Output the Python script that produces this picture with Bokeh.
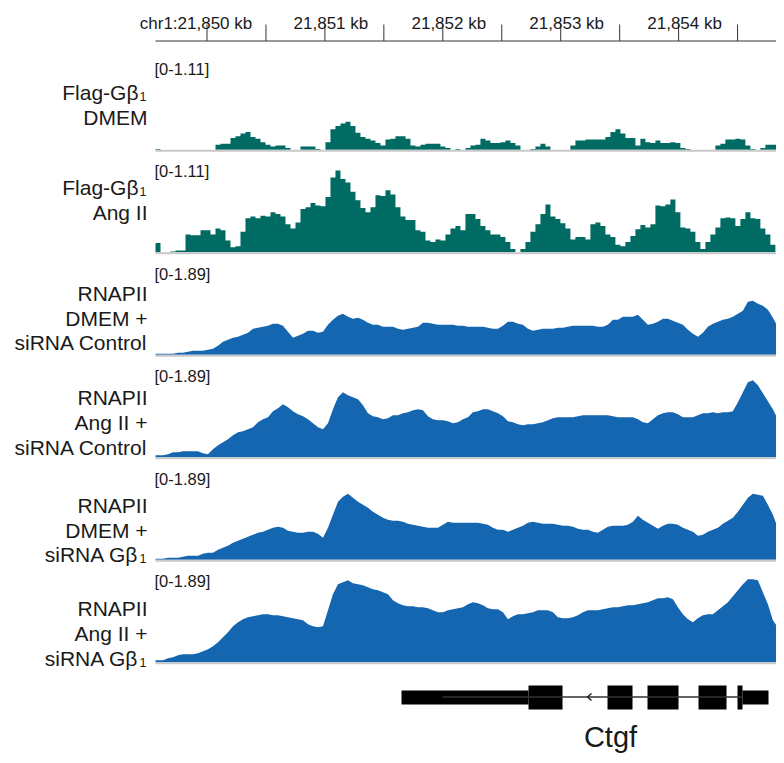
import numpy as np
from bokeh.plotting import figure
from bokeh.models import Range1d
from bokeh.embed import file_html
from bokeh.resources import INLINE
from bokeh.core.properties import value

FONT = "Liberation Sans"

# ---------------- data ----------------
CHROM = "chr1"
VIEW_START_KB = 21849.5632          # left edge of the data panel
VIEW_END_KB = 21854.8982            # right edge of the data panel
BIN_KB = 0.0424                     # width of one coverage bin (kb)

TICKS_KB = [21850.0, 21850.5, 21851.0, 21851.5, 21852.0, 21852.5, 21853.0, 21853.5, 21854.0, 21854.5]
LABEL_TICKS_KB = [21850.0, 21851.0, 21852.0, 21853.0, 21854.0]
TICK_LABELS = ["chr1:21,850 kb", "21,851 kb", "21,852 kb", "21,853 kb", "21,854 kb"]

flag_dmem = [
    0.01, 0, 0, 0, 0, 0, 0, 0, 0, 0, 0, 0,
    0.06, 0.07, 0.07, 0.14, 0.16, 0.19, 0.21, 0.15, 0.13, 0.09, 0.06, 0.04, 0.05, 0.05, 0.02, 0, 0, 0.04, 0.04, 0.04, 0.01, 0,
    0.09, 0.24, 0.28, 0.31, 0.33, 0.28, 0.20, 0.15, 0.13, 0.11, 0.08,
    0.05, 0.12, 0.13, 0.16, 0.16, 0.13, 0.05, 0.04, 0.06, 0.07, 0.07, 0.07, 0.04, 0.02, 0, 0.01, 0, 0.02, 0.05, 0.06,
    0.13, 0.11, 0.08, 0.08, 0.09, 0.11, 0.08, 0.05, 0, 0, 0.01, 0.04, 0.07, 0.04, 0, 0, 0, 0,
    0.05, 0.11, 0.11, 0.12, 0.12, 0.12, 0.12, 0.15, 0.21, 0.24, 0.19, 0.14, 0.14, 0.05, 0.13, 0.09, 0.08, 0.11, 0.08, 0.08, 0.09, 0.08, 0.02, 0.01,
    0, 0, 0, 0, 0,
    0.05, 0.07, 0.12, 0.12, 0.13, 0.12, 0.05, 0.01, 0, 0.02, 0.06, 0.06, 0.06, 0.02,
]

flag_ang = [
    0.11, 0, 0, 0.01, 0.02, 0.02, 0.21, 0.20, 0.20, 0.26,
    0.26, 0.21, 0.28, 0.26, 0.14, 0.06, 0.07, 0.24, 0.40, 0.42,
    0.40, 0.43, 0.42, 0.47, 0.45, 0.42, 0.33, 0.28, 0.35, 0.51,
    0.53, 0.58, 0.55, 0.54, 0.65, 0.88, 0.96, 0.86, 0.82, 0.71,
    0.61, 0.52, 0.47, 0.53, 0.67, 0.66, 0.73, 0.68, 0.53, 0.42,
    0.38, 0.38, 0.26, 0.24, 0.14, 0.12, 0.15, 0.14, 0.21, 0.28,
    0.31, 0.26, 0.45, 0.45, 0.39, 0.31, 0.26, 0.21, 0.21, 0.18,
    0.12, 0.04, 0, 0.04, 0.12, 0.24, 0.33, 0.45, 0.56, 0.42,
    0.39, 0.34, 0.28, 0.15, 0.18, 0.18, 0.15, 0.33, 0.35, 0.31,
    0.21, 0.18, 0.09, 0.07, 0.12, 0.19, 0.27, 0.32, 0.29, 0.33,
    0.55, 0.54, 0.56, 0.62, 0.47, 0.29, 0.28, 0.24, 0.12, 0.04,
    0.12, 0.21, 0.29, 0.40, 0.41, 0.40, 0.31, 0.39, 0.47, 0.40,
    0.39, 0.28, 0.21, 0.09, 0, 0,
]

pol2_dmem_sictrl = [
    0.02, 0.02, 0.02, 0.02, 0.04, 0.04, 0.06, 0.08, 0.08, 0.08,
    0.10, 0.12, 0.18, 0.26, 0.30, 0.34, 0.36, 0.40, 0.44, 0.52,
    0.54, 0.56, 0.58, 0.62, 0.62, 0.58, 0.46, 0.34, 0.38, 0.42,
    0.48, 0.48, 0.44, 0.46, 0.60, 0.70, 0.78, 0.82, 0.76, 0.72,
    0.74, 0.70, 0.64, 0.60, 0.60, 0.56, 0.56, 0.56, 0.52, 0.50,
    0.52, 0.54, 0.56, 0.64, 0.64, 0.62, 0.60, 0.60, 0.60, 0.60,
    0.58, 0.58, 0.56, 0.56, 0.56, 0.56, 0.54, 0.52, 0.52, 0.58,
    0.66, 0.66, 0.62, 0.60, 0.52, 0.48, 0.50, 0.52, 0.52, 0.52,
    0.54, 0.54, 0.56, 0.58, 0.58, 0.58, 0.58, 0.58, 0.56, 0.56,
    0.60, 0.70, 0.70, 0.76, 0.76, 0.76, 0.80, 0.70, 0.60, 0.62,
    0.66, 0.72, 0.72, 0.68, 0.64, 0.60, 0.50, 0.42, 0.36, 0.44,
    0.56, 0.62, 0.66, 0.70, 0.72, 0.76, 0.82, 0.88, 1.06, 1.08,
    1.02, 0.98, 0.90, 0.74, 0.56, 0.20,
]

pol2_ang_sictrl = [
    0.04, 0.04, 0.06, 0.10, 0.10, 0.12, 0.12, 0.12, 0.12, 0.08,
    0.06, 0.16, 0.24, 0.30, 0.36, 0.44, 0.50, 0.52, 0.56, 0.60,
    0.70, 0.76, 0.80, 0.92, 0.98, 1.06, 1.00, 0.92, 0.86, 0.82,
    0.76, 0.68, 0.60, 0.56, 0.68, 0.96, 1.20, 1.30, 1.24, 1.20,
    1.16, 1.04, 0.88, 0.82, 0.80, 0.76, 0.78, 0.84, 0.84, 0.88,
    0.90, 0.94, 0.96, 0.94, 0.82, 0.76, 0.74, 0.74, 0.72, 0.68,
    0.70, 0.76, 0.80, 0.90, 0.92, 0.96, 0.96, 0.92, 0.88, 0.82,
    0.72, 0.70, 0.66, 0.64, 0.66, 0.66, 0.68, 0.70, 0.74, 0.78,
    0.80, 0.80, 0.80, 0.80, 0.82, 0.84, 0.84, 0.84, 0.84, 0.84,
    0.84, 0.82, 0.80, 0.80, 0.80, 0.80, 0.76, 0.70, 0.68, 0.76,
    0.84, 0.88, 0.90, 0.90, 0.86, 0.80, 0.80, 0.80, 0.84, 0.88,
    0.88, 0.90, 0.88, 0.90, 0.90, 0.92, 1.10, 1.30, 1.50, 1.54,
    1.44, 1.28, 1.12, 0.96, 0.76, 0.36,
]

pol2_dmem_sigb = [
    0.02, 0.02, 0.04, 0.04, 0.04, 0.06, 0.08, 0.08, 0.08, 0.12,
    0.14, 0.14, 0.20, 0.24, 0.28, 0.34, 0.38, 0.42, 0.46, 0.50,
    0.54, 0.56, 0.60, 0.64, 0.66, 0.64, 0.58, 0.56, 0.54, 0.54,
    0.56, 0.56, 0.52, 0.44, 0.64, 0.90, 1.16, 1.26, 1.32, 1.24,
    1.16, 1.10, 1.04, 0.96, 0.90, 0.84, 0.80, 0.78, 0.78, 0.76,
    0.72, 0.70, 0.68, 0.66, 0.64, 0.64, 0.64, 0.70, 0.76, 0.74,
    0.74, 0.74, 0.74, 0.74, 0.74, 0.72, 0.70, 0.64, 0.60, 0.60,
    0.56, 0.60, 0.64, 0.68, 0.74, 0.76, 0.74, 0.72, 0.72, 0.72,
    0.70, 0.68, 0.68, 0.66, 0.62, 0.60, 0.60, 0.56, 0.54, 0.60,
    0.66, 0.68, 0.68, 0.68, 0.70, 0.76, 0.88, 0.80, 0.74, 0.68,
    0.62, 0.68, 0.72, 0.72, 0.70, 0.64, 0.60, 0.56, 0.48, 0.50,
    0.56, 0.60, 0.64, 0.72, 0.78, 0.84, 0.96, 1.10, 1.24, 1.32,
    1.30, 1.28, 1.10, 0.90, 0.64, 0.24,
]

pol2_ang_sigb = [
    0.04, 0.04, 0.08, 0.10, 0.14, 0.16, 0.16, 0.16, 0.18, 0.22,
    0.26, 0.32, 0.40, 0.50, 0.60, 0.72, 0.80, 0.86, 0.90, 0.92,
    0.94, 0.96, 0.96, 0.94, 0.94, 0.92, 0.90, 0.88, 0.86, 0.84,
    0.76, 0.72, 0.70, 0.72, 1.04, 1.36, 1.56, 1.60, 1.64, 1.58,
    1.56, 1.54, 1.50, 1.46, 1.44, 1.40, 1.36, 1.24, 1.18, 1.14,
    1.12, 1.12, 1.10, 1.10, 1.08, 1.04, 1.00, 1.00, 1.04, 1.06,
    1.08, 1.10, 1.16, 1.20, 1.18, 1.14, 1.08, 1.06, 1.06, 1.00,
    0.86, 0.92, 0.96, 0.96, 0.98, 1.00, 1.04, 1.04, 1.04, 1.00,
    0.90, 0.88, 0.88, 0.90, 0.94, 1.00, 1.04, 1.04, 1.04, 1.06,
    1.08, 1.10, 1.10, 1.12, 1.14, 1.14, 1.16, 1.18, 1.20, 1.24,
    1.28, 1.28, 1.30, 1.26, 1.10, 0.96, 0.86, 0.80, 0.88, 0.94,
    0.96, 0.96, 1.04, 1.12, 1.20, 1.32, 1.44, 1.56, 1.66, 1.66,
    1.64, 1.40, 1.16, 0.84, 0.70, 0.36,
]

track_values = [flag_dmem, flag_ang, pol2_dmem_sictrl, pol2_ang_sictrl, pol2_dmem_sigb, pol2_ang_sigb]
track_max = [1.11, 1.11, 1.89, 1.89, 1.89, 1.89]
track_range_labels = ["[0-1.11]", "[0-1.11]", "[0-1.89]", "[0-1.89]", "[0-1.89]", "[0-1.89]"]
track_stepped = [True, True, False, False, False, False]
# each label line: (main text, subscript text)
track_names = [
    [("Flag-Gβ", "1"), ("DMEM", "")],
    [("Flag-Gβ", "1"), ("Ang II", "")],
    [("RNAPII", ""), ("DMEM +", ""), ("siRNA Control", "")],
    [("RNAPII", ""), ("Ang II +", ""), ("siRNA Control", "")],
    [("RNAPII", ""), ("DMEM +", ""), ("siRNA Gβ", "1")],
    [("RNAPII", ""), ("Ang II +", ""), ("siRNA Gβ", "1")],
]

# gene model Ctgf (minus strand), kb
GENE_NAME = "Ctgf"
gene_line_start = 21851.9975
gene_line_end = 21854.5420
utr_start = [21851.6497, 21854.5420]
utr_end = [21852.7269, 21854.7625]
cds_start = [21852.7269, 21853.3970, 21853.7362, 21854.1688, 21854.4996]
cds_end = [21853.0153, 21853.6090, 21853.9992, 21854.4063, 21854.5420]
strand_arrow_kb = 21853.2273
gene_label_kb = 21853.4224

# ---------------- styling / layout ----------------
TEAL = "#006B62"
BLUE = "#1466B0"
TEXT = "#1a1a1a"
track_colors = [TEAL, TEAL, BLUE, BLUE, BLUE, BLUE]
baselines = [149.3, 251.8, 354.3, 456.8, 559.3, 661.8]   # layout rows
TRACK_H = 94.5
label_rows = [
    [92, 117],
    [187, 212],
    [293, 317.5, 342],
    [397, 422, 447],
    [505, 529.5, 554],
    [608, 633, 657.5],
]

W, H = 776, 755
PAGE_LEFT_KB = 21848.2485
PAGE_RIGHT_KB = 21854.8303
p = figure(width=W, height=H, output_backend="svg", toolbar_location=None,
           x_range=Range1d(PAGE_LEFT_KB, PAGE_RIGHT_KB), y_range=Range1d(H, 0),
           x_axis_location=None, y_axis_location=None, min_border=0)
p.outline_line_color = None
p.xgrid.visible = False
p.ygrid.visible = False
p.background_fill_color = "white"
p.border_fill_color = "white"

# ---- top ruler ----
p.line([VIEW_START_KB, VIEW_END_KB], [40.5, 40.5], line_color="#333333", line_width=1)
p.segment(x0=TICKS_KB, y0=[24] * len(TICKS_KB), x1=TICKS_KB, y1=[40.5] * len(TICKS_KB),
          line_color="#333333", line_width=1)
p.text(x=LABEL_TICKS_KB[:1], y=[23], text=TICK_LABELS[:1], x_offset=-11,
       text_font=value(FONT), text_font_size="17px", text_align="center",
       text_baseline="alphabetic", text_color=TEXT)
p.text(x=LABEL_TICKS_KB[1:], y=[23] * 4, text=TICK_LABELS[1:], x_offset=6,
       text_font=value(FONT), text_font_size="17px", text_align="center",
       text_baseline="alphabetic", text_color=TEXT)

# ---- coverage tracks ----
starts = VIEW_START_KB + np.arange(len(flag_dmem)) * BIN_KB
centers = starts + BIN_KB / 2
for vals, vmax, base, col, rlab, names, rows, stepped in zip(
        track_values, track_max, baselines, track_colors, track_range_labels,
        track_names, label_rows, track_stepped):
    scale = TRACK_H / vmax
    xs = [starts[0]]
    ys = [base]
    if stepped:
        for s, v in zip(starts, vals):
            t = base - v * scale
            xs += [s, min(s + BIN_KB, VIEW_END_KB)]
            ys += [t, t]
        xs.append(min(starts[-1] + BIN_KB, VIEW_END_KB))
    else:
        xs.append(starts[0])
        ys.append(base - vals[0] * scale)
        for c, v in zip(centers, vals):
            xs.append(min(c, VIEW_END_KB))
            ys.append(base - v * scale)
        xs.append(VIEW_END_KB)
        ys.append(base - vals[-1] * scale)
        xs.append(VIEW_END_KB)
    ys.append(base)
    p.patch(xs, ys, fill_color=col, line_color=None)
    p.line([VIEW_START_KB, VIEW_END_KB], [base + 1, base + 1], line_color="#c9c9c9", line_width=2)
    p.text(x=[VIEW_START_KB], y=[base - 81], text=[rlab], x_offset=-1,
           text_font=value(FONT), text_font_size="16.5px", text_align="left",
           text_baseline="alphabetic", text_color=TEXT)
    for (main, sub), yb in zip(names, rows):
        if sub:
            p.text(x=[VIEW_START_KB], y=[yb], text=[main], x_offset=-17,
                   text_font=value(FONT), text_font_size="21px", text_align="right",
                   text_baseline="alphabetic", text_color=TEXT)
            p.text(x=[VIEW_START_KB], y=[yb + 4], text=[sub], x_offset=-16,
                   text_font=value(FONT), text_font_size="12.5px", text_align="left",
                   text_baseline="alphabetic", text_color=TEXT)
        else:
            p.text(x=[VIEW_START_KB], y=[yb], text=[main], x_offset=-8,
                   text_font=value(FONT), text_font_size="21px", text_align="right",
                   text_baseline="alphabetic", text_color=TEXT)

# ---- gene model ----
p.quad(left=utr_start, right=utr_end, top=[690] * 2, bottom=[704] * 2,
       fill_color="black", line_color=None)
p.quad(left=cds_start, right=cds_end, top=[685] * 5, bottom=[709] * 5,
       fill_color="black", line_color=None)
p.line([gene_line_start, gene_line_end], [696.5, 696.5], line_color="#333333", line_width=1.5)
aw = 0.034
p.line([strand_arrow_kb + aw, strand_arrow_kb, strand_arrow_kb + aw], [693, 696.5, 700],
       line_color="#222222", line_width=1.5)
p.text(x=[gene_label_kb], y=[736], text=[GENE_NAME], text_font=value(FONT),
       text_font_size="29px", text_align="center", text_baseline="alphabetic", text_color=TEXT)

open("out.html", "w").write(file_html(p, INLINE))
